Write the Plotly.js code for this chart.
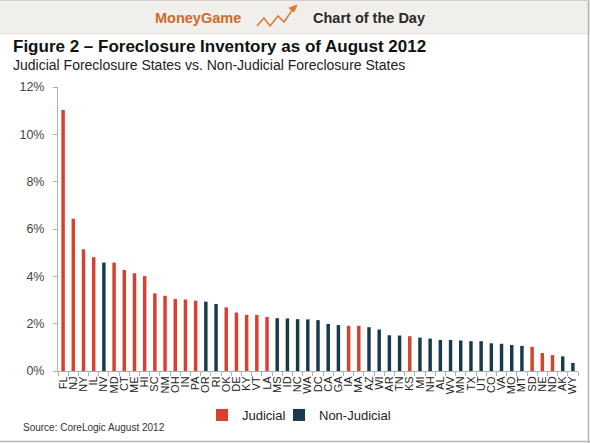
<!DOCTYPE html>
<html><head><meta charset="utf-8">
<script src="https://cdn.plot.ly/plotly-3.0.1.min.js"></script>
<style>html,body{margin:0;padding:0;background:#fff}#chart{width:590px;height:443px}</style>
</head><body><div id="chart"></div>
<script>
const states = ["FL","NJ","NY","IL","NV","MD","CT","ME","HI","SC","NM","OH","IN","PA","OR","RI","OK","DE","KY","VT","LA","MS","ID","NC","WA","DC","CA","GA","IA","MA","AZ","WI","AR","TN","KS","MI","NH","AL","WV","MN","TX","UT","CO","VA","MO","MT","SD","NE","ND","AK","WY"];
const inventory = [11.03,6.43,5.14,4.81,4.58,4.58,4.27,4.13,4.01,3.28,3.18,3.04,3.02,2.97,2.93,2.83,2.69,2.47,2.37,2.37,2.28,2.23,2.22,2.19,2.18,2.15,1.99,1.94,1.91,1.91,1.85,1.75,1.51,1.50,1.47,1.41,1.37,1.31,1.31,1.29,1.26,1.26,1.17,1.15,1.10,1.06,1.02,0.76,0.67,0.62,0.34];
const judicialStates = ["FL","NJ","NY","IL","MD","CT","ME","HI","SC","NM","OH","IN","PA","OK","DE","KY","VT","LA","IA","MA","KS","SD","NE","ND"];
const yTickVals = [0,2,4,6,8,10,12];
const yTickText = ["0%","2%","4%","6%","8%","10%","12%"];

const RED = "#d9402e", NAVY = "#173a4c";
const isJ = states.map(s => judicialStates.includes(s));
const traceJ = {type:"bar", name:"Judicial", x:states, y:inventory.map((v,i)=>isJ[i]?v:null), marker:{color:RED}, legend:"legend"};
const traceN = {type:"bar", name:"Non-Judicial", x:states, y:inventory.map((v,i)=>isJ[i]?null:v), marker:{color:NAVY}, legend:"legend2"};

// pixel helpers (plot area: x 58..578, y 87..371)
const L=58, R=578, T=87, B=371;
const px = p => (p-L)/(R-L);
const py = p => (B-p)/(B-T);
const FONT = "Liberation Sans, Arial, sans-serif";
const legendBase = {orientation:"h", xanchor:"left", y:py(415), yanchor:"middle",
  font:{family:FONT, size:13, color:"#222"}, itemwidth:30, tracegroupgap:0, itemclick:false, bgcolor:"rgba(0,0,0,0)"};

const layout = {
  width:590, height:443,
  margin:{l:L, r:590-R, t:T, b:443-B},
  paper_bgcolor:"#fff", plot_bgcolor:"#fff",
  barmode:"overlay", bargap:0.66,
  showlegend:true,
  legend:Object.assign({}, legendBase, {x:px(202)}),
  legend2:Object.assign({}, legendBase, {x:px(279)}),
  xaxis:{type:"category", categoryorder:"array", categoryarray:states,
         tickmode:"linear", dtick:1, tick0:0,
         tickangle:-90, tickfont:{family:FONT, size:11, color:"#222"},
         showline:true, linecolor:"#b0b0b0", linewidth:1, ticks:"outside", tickson:"boundaries",
         ticklen:4, tickcolor:"#b0b0b0", showgrid:false, zeroline:false, range:[-0.5,states.length-0.5], fixedrange:true},
  yaxis:{range:[0,12], tickvals:yTickVals, ticktext:yTickText,
         tickfont:{family:FONT, size:12.5, color:"#444"},
         showline:true, linecolor:"#b0b0b0", linewidth:1, ticks:"outside", ticklen:4, tickcolor:"#b0b0b0",
         ticklabelstandoff:6,
         showgrid:false, zeroline:false, fixedrange:true},
  shapes:[
    {type:"rect", xref:"paper", yref:"paper", x0:px(0), x1:px(590), y0:py(0), y1:py(34), fillcolor:"#f1efec", line:{width:0}, layer:"below"},
    {type:"line", xref:"paper", yref:"paper", x0:px(0), x1:px(590), y0:py(34), y1:py(34), line:{color:"#e2dfdb", width:1}},
    {type:"line", xref:"paper", yref:"paper", x0:px(588.5), x1:px(588.5), y0:py(0), y1:py(443), line:{color:"#b5b5b5", width:1.5}},
    {type:"line", xref:"paper", yref:"paper", x0:px(0), x1:px(590), y0:py(441.5), y1:py(441.5), line:{color:"#b5b5b5", width:1.5}},
    {type:"line", xref:"paper", yref:"paper", x0:px(0), x1:px(590), y0:py(0.5), y1:py(0.5), line:{color:"#cfcfcf", width:1}},
    {type:"path", xref:"paper", yref:"paper",
     path:`M ${px(257)} ${py(26)} L ${px(264)} ${py(18)} L ${px(270)} ${py(26)} L ${px(278)} ${py(16)} L ${px(284)} ${py(22)} L ${px(293)} ${py(9)}`,
     line:{color:"#e07b39", width:1.6}},
    {type:"path", xref:"paper", yref:"paper",
     path:`M ${px(297)} ${py(5)} L ${px(289)} ${py(8)} L ${px(294)} ${py(12)} Z`,
     fillcolor:"#e07b39", line:{color:"#e07b39", width:1}}
  ],
  annotations:[
    {xref:"paper", yref:"paper", x:px(243), y:py(18), xanchor:"right", yanchor:"middle", showarrow:false,
     text:"<b>MoneyGame</b>", font:{family:FONT, size:14.5, color:"#d2692a"}},
    {xref:"paper", yref:"paper", x:px(311), y:py(18), xanchor:"left", yanchor:"middle", showarrow:false,
     text:"<b>Chart of the Day</b>", font:{family:FONT, size:14.5, color:"#2a2a2a"}},
    {xref:"paper", yref:"paper", x:px(11), y:py(47), xanchor:"left", yanchor:"middle", showarrow:false,
     text:"<b>Figure 2 – Foreclosure Inventory as of August 2012</b>", font:{family:FONT, size:17, color:"#111"}},
    {xref:"paper", yref:"paper", x:px(11), y:py(65), xanchor:"left", yanchor:"middle", showarrow:false,
     text:"Judicial Foreclosure States vs. Non-Judicial Foreclosure States", font:{family:FONT, size:14, color:"#222"}},
    {xref:"paper", yref:"paper", x:px(21), y:py(427), xanchor:"left", yanchor:"middle", showarrow:false,
     text:"Source: CoreLogic August 2012", font:{family:FONT, size:10, color:"#333"}}
  ]
};
Plotly.newPlot("chart", [traceJ, traceN], layout, {staticPlot:true, displayModeBar:false});
</script></body></html>
